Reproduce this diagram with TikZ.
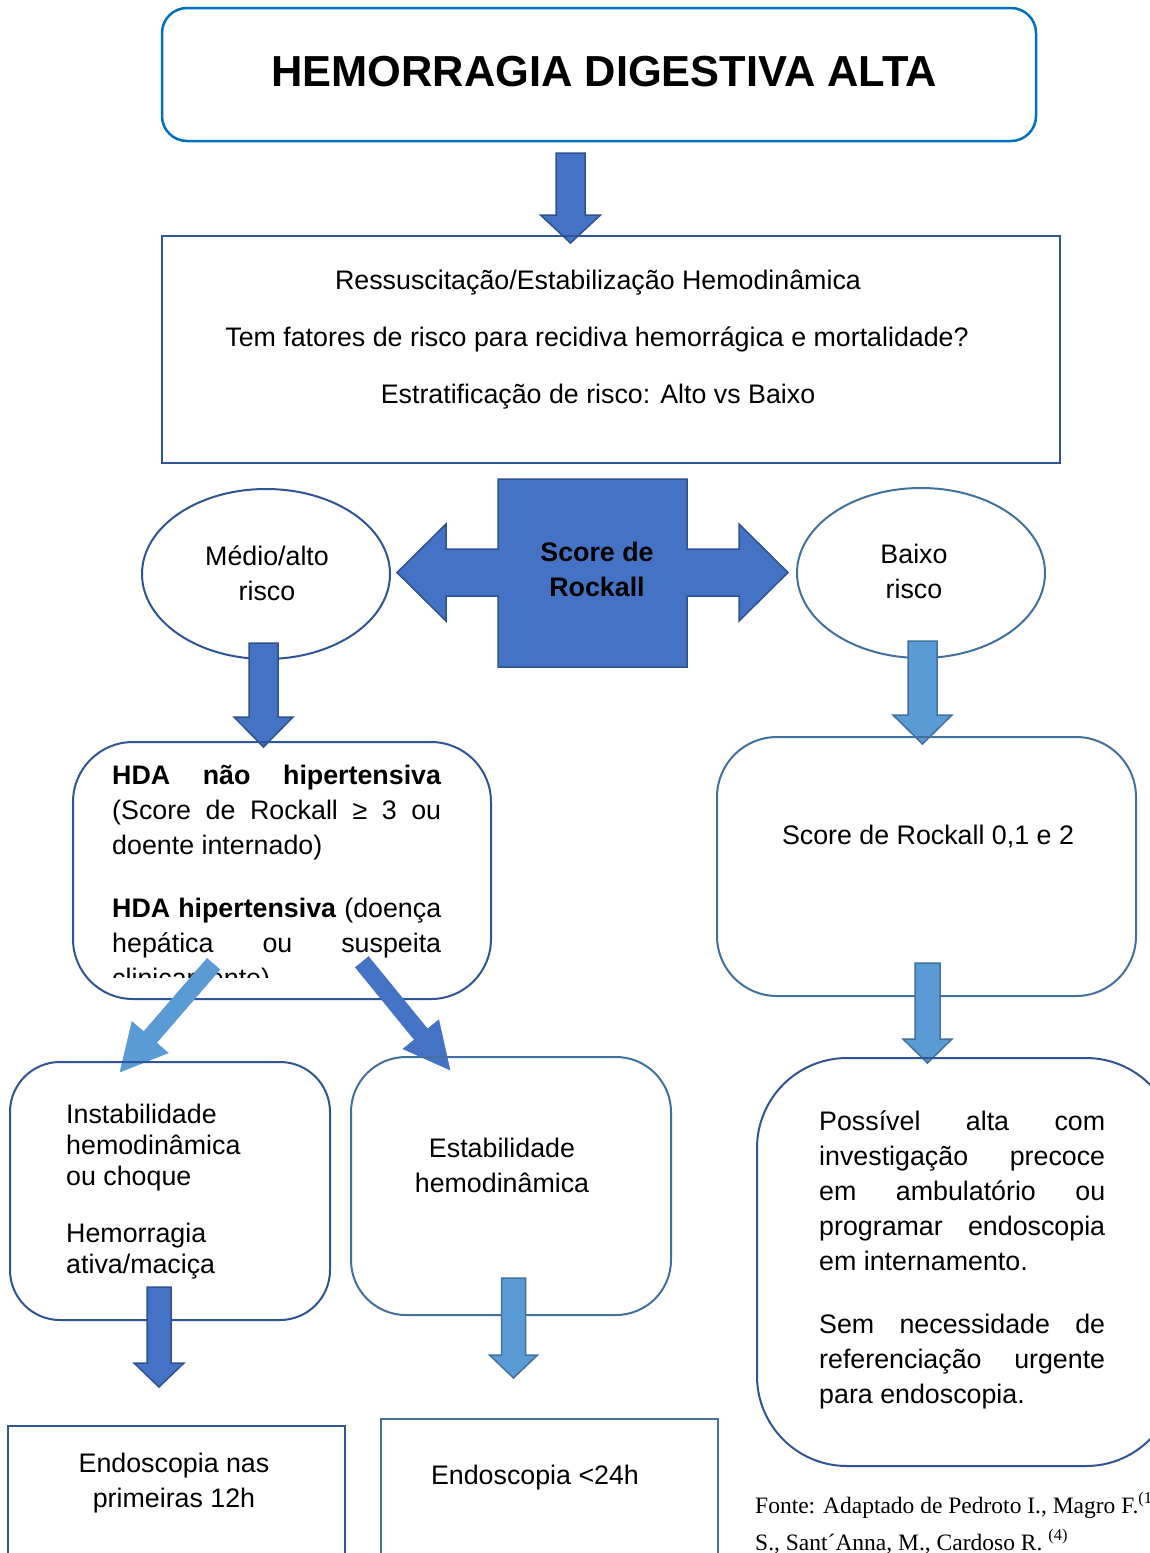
\documentclass[tikz,border=0pt]{standalone}
\usepackage{fontspec}
\setmainfont{Liberation Sans}
\newfontfamily\srcfont{Liberation Serif}
\usetikzlibrary{calc,shapes.geometric}
\definecolor{dblue}{HTML}{4472C4}
\definecolor{dblueline}{HTML}{2F528F}
\definecolor{lblue}{HTML}{5B9BD5}
\definecolor{lblueline}{HTML}{41719C}
\definecolor{boxline}{HTML}{2F5597}
\definecolor{titleline}{HTML}{0070C0}
% block arrow: from, to, shaft half width, head half width, head length, style
\newcommand\blockarr[6]{%
  \coordinate (hb) at ($(#2)!#5pt!(#1)$);
  \draw[#6] ($(#1)!#3pt!90:(#2)$) -- ($(hb)!#3pt!90:(#2)$) -- ($(hb)!#4pt!90:(#2)$) -- (#2)
    -- ($(hb)!#4pt!-90:(#2)$) -- ($(hb)!#3pt!-90:(#2)$) -- ($(#1)!#3pt!-90:(#2)$) -- cycle;}
\newcommand\tline[4]{\node[txt, anchor=#2] (#1) at (#3) {#4};}
\begin{document}
\begin{tikzpicture}[x=1pt,y=-1pt,
  txt/.style={font=\fontsize{26.8pt}{35pt}\selectfont, inner sep=0pt},
  darr/.style={fill=dblue, draw=dblueline, line width=1.5pt, line join=miter},
  larr/.style={fill=lblue, draw=lblueline, line width=1.5pt, line join=miter},
  ddiag/.style={fill=dblue, draw=dblue, line width=0.5pt},
  ldiag/.style={fill=lblue, draw=lblue, line width=0.5pt},
  box/.style={draw=boxline, line width=2pt, inner sep=0pt},
  rbox/.style={draw=lblueline, line width=2pt, inner sep=0pt}]
\useasboundingbox (0,0) rectangle (1149,1553);
\fill[white] (0,0) rectangle (1149,1553);

% title
\node[draw=titleline, line width=2.5pt, rounded corners=25pt, minimum width=874pt, minimum height=133pt, inner sep=0pt] (title) at (599,74.5) {};
\node[font=\fontsize{43.4pt}{50pt}\selectfont\bfseries, anchor=base, inner sep=0pt] (titletext) at (604,86) {HEMORRAGIA DIGESTIVA ALTA};

\coordinate (a1s) at (570.5,153); \coordinate (a1e) at (570.5,243);
\blockarr{a1s}{a1e}{14.5}{30}{28}{darr}

% risk box
\node[box, minimum width=898pt, minimum height=227pt] (risk) at (611,349.5) {};
\tline{r1}{base}{598,289}{Ressuscitação/Estabilização Hemodinâmica}
\tline{r2}{base}{597,346}{Tem fatores de risco para recidiva hemorrágica e mortalidade?}
\tline{r3}{base}{598,403}{Estratificação de risco: Alto vs Baixo}

% ellipses
\node[ellipse, box, minimum width=248pt, minimum height=170pt] (high) at (266,574) {};
\node[ellipse, rbox, minimum width=248pt, minimum height=170pt] (low) at (921,573) {};
\tline{e1}{base}{267,565}{Médio/alto}
\tline{e2}{base}{267,600}{risco}
\tline{e3}{base}{914,563}{Baixo}
\tline{e4}{base}{914,598}{risco}

% score callout
\draw[fill=dblue, draw=dblueline, line width=1.5pt, line join=miter]
  (498,479) -- (687,479) -- (687,549) -- (739,549) -- (739,524) -- (788,572.5) -- (739,621) -- (739,596)
  -- (687,596) -- (687,667) -- (498,667) -- (498,596) -- (446,596) -- (446,621) -- (397,572.5)
  -- (446,524) -- (446,549) -- (498,549) -- cycle;
\node[txt, font=\fontsize{26.8pt}{35pt}\selectfont\bfseries, anchor=base] (s1) at (597,561) {Score de};
\node[txt, font=\fontsize{26.8pt}{35pt}\selectfont\bfseries, anchor=base] (s2) at (597,596) {Rockall};

% arrows from ellipses
\coordinate (a2s) at (263.5,643); \coordinate (a2e) at (263.5,747);
\blockarr{a2s}{a2e}{14.5}{29.5}{30}{darr}
\coordinate (a3s) at (922.5,641); \coordinate (a3e) at (922.5,744);
\blockarr{a3s}{a3e}{14.5}{29.5}{29}{larr}

% HDA box
\node[box, rounded corners=60pt, minimum width=418pt, minimum height=257pt] (hda) at (282,870.5) {};
\tline{h1}{base west}{112,784}{\makebox[329pt][s]{\textbf{HDA não hipertensiva}}}
\tline{h2}{base west}{112,819}{\makebox[329pt][s]{(Score de Rockall ≥ 3 ou}}
\tline{h3}{base west}{112,854}{doente internado)}
\tline{h4}{base west}{112,917}{\makebox[329pt][s]{\textbf{HDA hipertensiva} (doença}}
\tline{h5}{base west}{112,952}{\makebox[329pt][s]{hepática ou suspeita}}
\begin{scope}
  \clip (100,960) rectangle (480,977);
  \tline{h6}{base west}{112,987}{clinicamente)}
\end{scope}

% right score box
\node[rbox, rounded corners=60pt, minimum width=419pt, minimum height=259pt] (low2) at (926.5,866.5) {};
\tline{l1}{base}{928,844}{Score de Rockall 0,1 e 2}

% diagonal arrows
\coordinate (d1s) at (213.5,964); \coordinate (d1e) at (120,1072);
\blockarr{d1s}{d1e}{8.5}{24}{46}{ldiag}
\coordinate (d2s) at (362,962); \coordinate (d2e) at (450,1070);
\blockarr{d2s}{d2e}{8.5}{23}{46}{ddiag}
% right down arrow
\coordinate (a4s) at (927.5,963); \coordinate (a4e) at (927.5,1063);
\blockarr{a4s}{a4e}{12.5}{24.5}{24}{larr}

% Instab box
\node[box, rounded corners=50pt, minimum width=320pt, minimum height=258pt] (inst) at (170,1191) {};
\tline{i1}{base west}{66,1123}{Instabilidade}
\tline{i2}{base west}{66,1154}{hemodinâmica}
\tline{i3}{base west}{66,1185}{ou choque}
\tline{i4}{base west}{66,1242}{Hemorragia}
\tline{i5}{base west}{66,1273}{ativa/maciça}

% Estab box
\node[rbox, rounded corners=55pt, minimum width=320pt, minimum height=258pt] (estab) at (511,1186) {};
\tline{s3}{base}{502,1157}{Estabilidade}
\tline{s4}{base}{502,1192}{hemodinâmica}

% Possivel box
\node[box, rounded corners=90pt, minimum width=419pt, minimum height=408pt] (alta) at (966.5,1262) {};
\tline{p1}{base west}{819,1130}{\makebox[286pt][s]{Possível alta com}}
\tline{p2}{base west}{819,1165}{\makebox[286pt][s]{investigação precoce}}
\tline{p3}{base west}{819,1200}{\makebox[286pt][s]{em ambulatório ou}}
\tline{p4}{base west}{819,1235}{\makebox[286pt][s]{programar endoscopia}}
\tline{p5}{base west}{819,1270}{em internamento.}
\tline{p6}{base west}{819,1333}{\makebox[286pt][s]{Sem necessidade de}}
\tline{p7}{base west}{819,1368}{\makebox[286pt][s]{referenciação urgente}}
\tline{p8}{base west}{819,1403}{para endoscopia.}

% lower arrows
\coordinate (a5s) at (159,1287); \coordinate (a5e) at (159,1387);
\blockarr{a5s}{a5e}{12}{25}{24}{darr}
\coordinate (a6s) at (513.5,1278); \coordinate (a6e) at (513.5,1378);
\blockarr{a6s}{a6e}{12}{24}{23}{larr}

% bottom boxes
\node[box, minimum width=337pt, minimum height=174pt] (endo1) at (176.5,1513) {};
\tline{b1}{base}{174,1472}{Endoscopia nas}
\tline{b2}{base}{174,1507}{primeiras 12h}
\node[rbox, minimum width=337pt, minimum height=181pt] (endo2) at (549.5,1509.5) {};
\tline{b3}{base}{535,1484}{Endoscopia <24h}

% source
\node[font=\srcfont\fontsize{23.5pt}{26pt}\selectfont, anchor=base west, inner sep=0pt] (src1) at (755,1513) {Fonte: Adaptado de Pedroto I., Magro F.\textsuperscript{(19)}};
\node[font=\srcfont\fontsize{23.5pt}{26pt}\selectfont, anchor=base west, inner sep=0pt] (src2) at (755,1550) {S., Sant´Anna, M., Cardoso R. \textsuperscript{(4)}};
\end{tikzpicture}
\end{document}
